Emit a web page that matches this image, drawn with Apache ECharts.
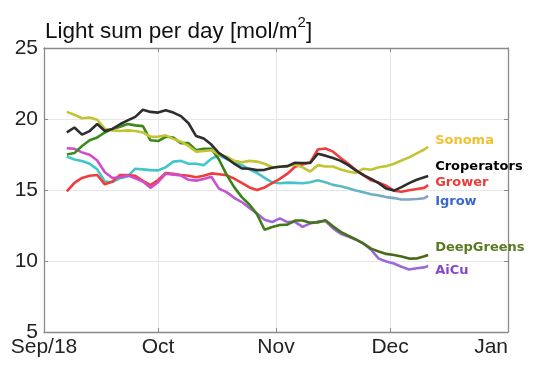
<!DOCTYPE html>
<html>
<head>
<meta charset="utf-8">
<script src="https://cdn.jsdelivr.net/npm/echarts@6/dist/echarts.min.js"></script>
<style>html,body{margin:0;padding:0;background:#fff}#c{width:550px;height:378px}</style>
</head>
<body>
<div id="c"></div>
<script>
const dates = ['2018-09-07','2018-09-09','2018-09-11','2018-09-13','2018-09-15','2018-09-17','2018-09-19','2018-09-21','2018-09-23','2018-09-25','2018-09-27','2018-09-29',
 '2018-10-01','2018-10-03','2018-10-05','2018-10-07','2018-10-09','2018-10-11','2018-10-13','2018-10-15','2018-10-17','2018-10-19','2018-10-21','2018-10-23','2018-10-25','2018-10-27','2018-10-29','2018-10-31',
 '2018-11-02','2018-11-04','2018-11-06','2018-11-08','2018-11-10','2018-11-12','2018-11-14','2018-11-16','2018-11-18','2018-11-20','2018-11-22','2018-11-24','2018-11-26','2018-11-28','2018-11-30',
 '2018-12-02','2018-12-04','2018-12-06','2018-12-08','2018-12-10','2018-12-11'];

const sonoma = [20.5,20.3,20.05,20.1,19.95,19.3,19.2,19.15,19.2,19.15,19.05,18.75,
 18.75,18.85,18.6,18.4,18.1,17.7,17.75,17.8,17.5,17.35,17.05,16.95,17.05,17.0,16.85,16.6,
 16.64,16.65,16.8,16.6,16.3,16.75,16.65,16.65,16.45,16.3,16.2,16.5,16.43,16.6,16.68,
 16.85,17.08,17.3,17.58,17.85,18.05];
const croperators = [19.06,19.4,18.9,19.15,19.65,19.15,19.3,19.63,19.9,20.15,20.65,20.5,
 20.45,20.62,20.45,20.2,19.7,18.8,18.62,18.2,17.6,17.25,16.85,16.52,16.5,16.4,16.42,16.57,
 16.64,16.68,16.92,16.9,16.9,17.55,17.42,17.25,17.05,16.75,16.38,16.05,15.78,15.48,15.1,
 14.96,15.2,15.48,15.72,15.9,15.99];
const grower = [14.9,15.5,15.85,16.0,16.06,15.4,15.6,16.05,16.05,16.0,15.65,15.35,
 15.7,16.2,16.15,16.06,16.0,15.9,16.0,16.17,16.11,16.05,15.8,15.5,15.18,15.0,15.18,15.48,
 15.78,16.15,16.64,16.8,16.95,17.85,17.92,17.7,17.25,16.85,16.4,16.05,15.68,15.52,15.3,
 14.95,14.88,14.98,15.07,15.15,15.35];
const igrow = [17.35,17.15,17.04,16.85,16.45,15.6,15.55,15.83,15.95,16.5,16.45,16.4,
 16.38,16.6,17.0,17.05,16.85,16.85,16.75,17.2,17.45,17.18,16.95,16.75,16.45,16.2,15.85,15.54,
 15.47,15.52,15.5,15.47,15.54,15.68,15.54,15.36,15.26,15.12,14.97,14.84,14.7,14.62,14.5,
 14.43,14.33,14.33,14.37,14.42,14.58];
const deepGreens = [17.5,17.6,18.1,18.5,18.7,19.05,19.3,19.46,19.65,19.55,19.5,18.5,
 18.45,18.75,18.7,18.3,18.3,17.8,17.9,17.9,17.15,16.08,15.2,14.5,13.98,13.3,12.2,12.4,
 12.54,12.56,12.85,12.85,12.7,12.72,12.87,12.45,12.05,11.78,11.52,11.22,10.87,10.67,10.5,
 10.42,10.32,10.17,10.18,10.33,10.42];
const aiCu = [17.94,17.9,17.65,17.48,17.08,16.25,15.84,15.9,16.03,15.83,15.6,15.15,
 15.55,16.15,16.08,16.02,15.72,15.66,15.77,15.93,15.1,14.85,14.45,14.15,13.74,13.35,12.9,12.74,
 13.0,12.74,12.76,12.4,12.65,12.77,12.82,12.3,11.92,11.72,11.5,11.24,10.8,10.17,9.96,
 9.82,9.6,9.4,9.49,9.55,9.65];

const monthLabels = ['Jan','Feb','Mar','Apr','May','Jun','Jul','Aug','Sep/18','Oct','Nov','Dec'];
const yTicks = [5, 25, 5]; // min, max, step

const FONT = '"Liberation Sans", Arial, Helvetica, sans-serif';
const LBL = '"DejaVu Sans", Verdana, sans-serif';

function grad(stops) {
  return {type:'linear', x:0, y:0, x2:1, y2:0, colorStops: stops.map(s => ({offset:s[0], color:s[1]}))};
}
function mk(name, vals, lineColor, labelColor, dy) {
  return {
    name: name, type: 'line', symbol: 'none', smooth: false,
    data: dates.map((d, i) => [d, vals[i]]),
    lineStyle: {width: 2.6, color: lineColor},
    itemStyle: {color: typeof lineColor === 'string' ? lineColor : labelColor},
    endLabel: {show: true, formatter: name, color: labelColor, fontFamily: LBL, fontWeight: 'bold', fontSize: 13, distance: 5, offset: [2, dy]},
    emphasis: {disabled: true}
  };
}

const chart = echarts.init(document.getElementById('c'), null, {renderer: 'canvas'});
const timeAxisBase = {
  type: 'time', min: '2018-09-01', max: '2019-01-01', splitNumber: 4, minInterval: 28 * 864e5
};
chart.setOption({
  animation: false,
  backgroundColor: '#fff',
  title: {
    text: '{a|Light sum per day [mol/m}{s|2}{a|]}',
    left: 45, top: 15, padding: 0,
    textStyle: {fontWeight: 'normal', rich: {
      a: {fontFamily: FONT, fontSize: 22.5, fontWeight: 'normal', color: '#111', lineHeight: 28, verticalAlign: 'bottom'},
      s: {fontFamily: FONT, fontSize: 15, fontWeight: 'normal', color: '#111', lineHeight: 28, verticalAlign: 'top'}
    }}
  },
  grid: {left: 44, right: 42, top: 48, bottom: 46},
  xAxis: [
    Object.assign({}, timeAxisBase, {
      position: 'bottom',
      axisLine: {show: true, lineStyle: {color: '#8a8a8a', width: 1.3}},
      axisTick: {show: true, inside: true, length: 4, lineStyle: {color: '#8a8a8a'}},
      axisLabel: {show: true, fontFamily: FONT, fontSize: 21, color: '#222', margin: 5,
        showMinLabel: true, showMaxLabel: true, alignMaxLabel: 'right',
        formatter: function (v) { return monthLabels[new Date(v).getMonth()]; }},
      splitLine: {show: true, lineStyle: {color: '#e6e6e6', width: 1}}
    }),
    Object.assign({}, timeAxisBase, {
      position: 'top',
      axisLine: {show: true, onZero: false, lineStyle: {color: '#8a8a8a', width: 1.3}},
      axisTick: {show: true, inside: true, length: 4, lineStyle: {color: '#8a8a8a'}},
      axisLabel: {show: false},
      splitLine: {show: false}
    })
  ],
  yAxis: [
    {
      type: 'value', min: yTicks[0], max: yTicks[1], interval: yTicks[2], position: 'left',
      axisLine: {show: true, lineStyle: {color: '#8a8a8a', width: 1.3}},
      axisTick: {show: true, inside: true, length: 4, lineStyle: {color: '#8a8a8a'}},
      axisLabel: {fontFamily: FONT, fontSize: 21, color: '#222', margin: 6},
      splitLine: {show: true, lineStyle: {color: '#e6e6e6', width: 1}}
    },
    {
      type: 'value', min: yTicks[0], max: yTicks[1], interval: yTicks[2], position: 'right',
      axisLine: {show: true, onZero: false, lineStyle: {color: '#8a8a8a', width: 1.3}},
      axisTick: {show: true, inside: true, length: 4, lineStyle: {color: '#8a8a8a'}},
      axisLabel: {show: false},
      splitLine: {show: false}
    }
  ],
  series: [
    mk('Igrow', igrow, grad([[0,'#3ec8c8'],[0.65,'#46c4c8'],[1,'#8c9ec6']]), '#3a68cc', 6),
    mk('Grower', grower, '#f03c3c', '#ee3b3b', -2),
    mk('AiCu', aiCu, grad([[0,'#d24ac8'],[0.42,'#cc50cc'],[0.5,'#a862d4'],[1,'#9a6ad8']]), '#8848cc', 5),
    mk('DeepGreens', deepGreens, grad([[0,'#3a8e1c'],[0.5,'#3c8018'],[1,'#4a6418']]), '#5a7a22', -7),
    mk('Sonoma', sonoma, '#c2c434', '#f2c12e', -6),
    mk('Croperators', croperators, '#2e2e2e', '#000000', -9)
  ]
});
</script>
</body>
</html>
